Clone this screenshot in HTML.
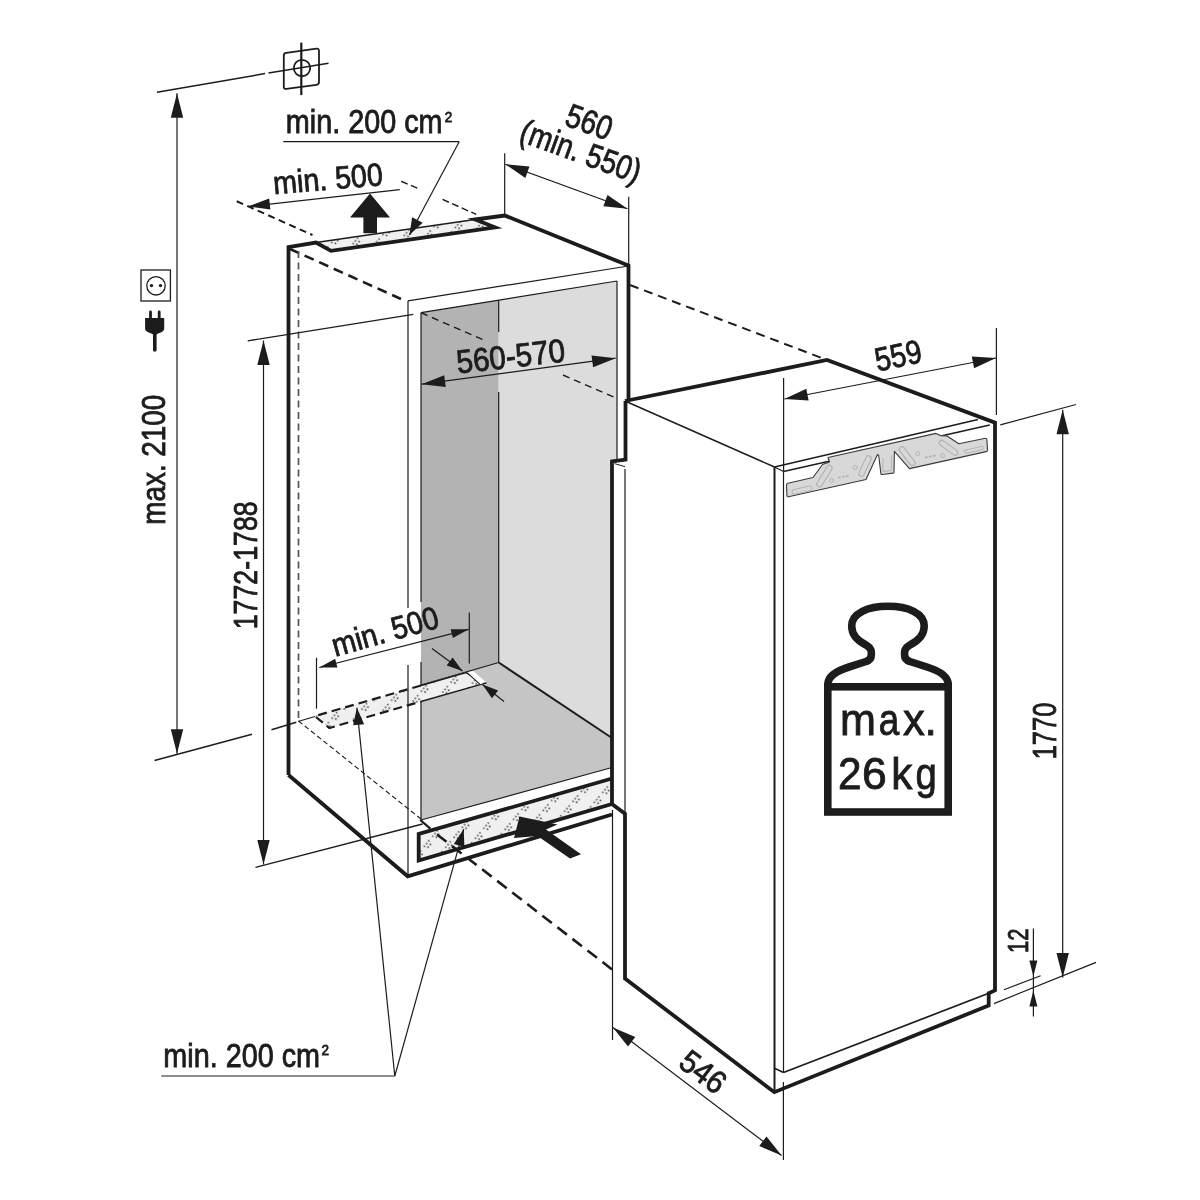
<!DOCTYPE html>
<html><head><meta charset="utf-8"><style>
html,body{margin:0;padding:0;background:#fff;}
svg{display:block;will-change:transform;}
text{font-family:"Liberation Sans",sans-serif;fill:#1c1c1c;stroke:#1c1c1c;stroke-width:0.85px;}
</style></head><body>
<svg width="1200" height="1200" viewBox="0 0 1200 1200">
<defs><pattern id="dots" patternUnits="userSpaceOnUse" width="13" height="17" patternTransform="rotate(-50)">
<rect width="13" height="17" fill="#f0f0f0"/><g fill="#333"><circle cx="1.5" cy="2" r="0.85"/><circle cx="5" cy="2" r="0.85"/><circle cx="8.5" cy="2" r="0.85"/><circle cx="3.2" cy="5.4" r="0.85"/><circle cx="6.7" cy="5.4" r="0.85"/></g></pattern></defs>
<rect width="1200" height="1200" fill="#fff"/>
<polygon points="421,312.7 498.7,300.1 498.7,662.5 421,685.2" fill="#b3b3b3"/>
<polygon points="498.7,300.1 617,281 617,462 612,462 612,738 498.7,662.5" fill="#dcdcdc"/>
<polygon points="421,685.2 498.7,662.5 612,738 612,767.5 421,820" fill="#c5c5c5"/>
<line x1="421" y1="312.7" x2="617" y2="281" stroke="#1c1c1c" stroke-width="1.2" stroke-linecap="butt"/>
<line x1="421" y1="312.7" x2="421" y2="602" stroke="#1c1c1c" stroke-width="1.2" stroke-linecap="butt"/>
<line x1="421" y1="662" x2="421" y2="820" stroke="#1c1c1c" stroke-width="1.2" stroke-linecap="butt"/>
<line x1="617" y1="281" x2="617" y2="462" stroke="#1c1c1c" stroke-width="1.2" stroke-linecap="butt"/>
<line x1="498.7" y1="300.1" x2="498.7" y2="332" stroke="#1c1c1c" stroke-width="1.2" stroke-linecap="butt"/>
<line x1="498.7" y1="392" x2="498.7" y2="662.5" stroke="#1c1c1c" stroke-width="1.2" stroke-linecap="butt"/>
<line x1="421" y1="685.2" x2="498.7" y2="662.5" stroke="#1c1c1c" stroke-width="1.2" stroke-linecap="butt"/>
<line x1="498.7" y1="662.5" x2="612" y2="738" stroke="#1c1c1c" stroke-width="2" stroke-linecap="butt"/>
<line x1="421" y1="820" x2="612" y2="767.5" stroke="#1c1c1c" stroke-width="1.2" stroke-linecap="butt"/>
<line x1="420.3" y1="820" x2="430.3" y2="828.7" stroke="#1c1c1c" stroke-width="2.2" stroke-linecap="butt"/>
<line x1="421" y1="312.7" x2="483" y2="339.7" stroke="#1c1c1c" stroke-width="1.4" stroke-linecap="butt" stroke-dasharray="7 5"/>
<line x1="563" y1="375" x2="617" y2="398.5" stroke="#1c1c1c" stroke-width="1.4" stroke-linecap="butt" stroke-dasharray="7 5"/>
<polygon points="314.75,716.1 466,672 485.3,683.1 329.4,728" fill="url(#dots)"/>
<polyline points="421,685.5 314.75,716.1 329.4,728 421,701.5" fill="none" stroke="#1c1c1c" stroke-width="2.2" stroke-linejoin="miter" stroke-linecap="butt" stroke-dasharray="9 5"/>
<polyline points="421,685.5 466,672.5 485.3,683.1 421,701.5" fill="none" stroke="#1c1c1c" stroke-width="1.5" stroke-linejoin="miter" stroke-linecap="butt"/>
<polygon points="467,672.6 473,671 485.8,682 479.8,684.2" fill="#ffffff"/>
<line x1="467" y1="672.6" x2="479.8" y2="684.2" stroke="#1c1c1c" stroke-width="1.1" stroke-linecap="butt"/>
<polygon points="316,242.5 475,219.5 495,227.3 331,250.8" fill="url(#dots)"/>
<line x1="316" y1="242.5" x2="475" y2="219.5" stroke="#1c1c1c" stroke-width="1.5" stroke-linecap="butt"/>
<polyline points="288.5,775 288.5,247 316,242.5 331,250.8 495,227.3 475,219.5 504.75,215.5 628.5,265.6 628.5,400" fill="none" stroke="#1c1c1c" stroke-width="3.8" stroke-linejoin="miter" stroke-linecap="butt"/>
<polyline points="288.5,775 407.7,876.3 612,814.5" fill="none" stroke="#1c1c1c" stroke-width="3.8" stroke-linejoin="miter" stroke-linecap="butt"/>
<line x1="408" y1="300.8" x2="628.5" y2="266" stroke="#1c1c1c" stroke-width="1.2" stroke-linecap="butt"/>
<line x1="408" y1="300.8" x2="408" y2="608" stroke="#1c1c1c" stroke-width="1.2" stroke-linecap="butt"/>
<line x1="408" y1="665" x2="408" y2="876" stroke="#1c1c1c" stroke-width="1.2" stroke-linecap="butt"/>
<line x1="290" y1="249" x2="401" y2="299" stroke="#1c1c1c" stroke-width="2.6" stroke-linecap="butt" stroke-dasharray="10 6"/>
<line x1="298.5" y1="251" x2="298.5" y2="721" stroke="#555" stroke-width="1.7" stroke-linecap="butt" stroke-dasharray="7 4.5"/>
<line x1="298.5" y1="721" x2="421" y2="819" stroke="#1c1c1c" stroke-width="1.1" stroke-linecap="butt" stroke-dasharray="5 3"/>
<line x1="630" y1="285" x2="826" y2="359.6" stroke="#1c1c1c" stroke-width="2" stroke-linecap="butt" stroke-dasharray="9 6"/>
<line x1="236.7" y1="201.25" x2="312.5" y2="235" stroke="#1c1c1c" stroke-width="2" stroke-linecap="butt" stroke-dasharray="7 4.5"/>
<line x1="401.25" y1="181.25" x2="420" y2="189.4" stroke="#1c1c1c" stroke-width="1.4" stroke-linecap="butt" stroke-dasharray="7 3.5"/>
<line x1="442.5" y1="199.4" x2="476.25" y2="214.4" stroke="#1c1c1c" stroke-width="1.4" stroke-linecap="butt" stroke-dasharray="7 3.5"/>
<polygon points="418.7,834 612,778.5 612,804 418.7,860.5" fill="url(#dots)"/>
<line x1="437" y1="834.5" x2="615" y2="971.7" stroke="#1c1c1c" stroke-width="2.6" stroke-linecap="butt" stroke-dasharray="12 7"/>
<polyline points="612,778.5 418.7,834 418.7,860.5 612,804" fill="none" stroke="#1c1c1c" stroke-width="3.8" stroke-linejoin="miter" stroke-linecap="butt"/>
<polyline points="625,401 827,360 995,422.6 995,990.4 988.7,993.3 988.7,1005.5 774.3,1092.2 625,978.5 625,813.8 612,804 612,461.4 625.5,459.6 625.5,401" fill="none" stroke="#1c1c1c" stroke-width="3.8" stroke-linejoin="miter" stroke-linecap="butt"/>
<line x1="625" y1="401" x2="774.5" y2="467" stroke="#1c1c1c" stroke-width="1.5" stroke-linecap="butt"/>
<line x1="774.5" y1="467" x2="978" y2="419.5" stroke="#1c1c1c" stroke-width="1.5" stroke-linecap="butt"/>
<line x1="774.5" y1="467" x2="774.5" y2="1092.2" stroke="#1c1c1c" stroke-width="2" stroke-linecap="butt"/>
<line x1="783.5" y1="471.5" x2="783.5" y2="1072.5" stroke="#1c1c1c" stroke-width="1.2" stroke-linecap="butt"/>
<line x1="774.5" y1="467" x2="783.5" y2="471.5" stroke="#1c1c1c" stroke-width="1.2" stroke-linecap="butt"/>
<line x1="774.5" y1="1068.3" x2="783.5" y2="1072.5" stroke="#1c1c1c" stroke-width="1.5" stroke-linecap="butt"/>
<line x1="783.5" y1="471.5" x2="989.75" y2="425" stroke="#1c1c1c" stroke-width="1.3" stroke-linecap="butt"/>
<line x1="783.5" y1="1072.5" x2="988.7" y2="993.3" stroke="#1c1c1c" stroke-width="1.7" stroke-linecap="butt"/>
<line x1="625" y1="469" x2="625" y2="812" stroke="#1c1c1c" stroke-width="1.2" stroke-linecap="butt"/>
<line x1="614.5" y1="463.6" x2="625" y2="466.6" stroke="#1c1c1c" stroke-width="1" stroke-linecap="butt"/>
<path d="M788.5 496.8 Q787 497 786.9 495.5 L786.5 485 Q786.5 483.7 788 483.3 L813 477.5 L822.5 464.5 L829.5 462 L828 457.5 L936 433.4 L940.4 435.6 L947 436 L958.8 443.7 L985.5 438.3 Q986.8 438.2 986.9 439.5 L987.5 450 Q987.5 451.3 986.2 451.6 L909.5 468.6 L894.4 451.3 L894 472 Q894 473 893 473.1 L882 474.5 Q881 474.6 880.9 473.6 L878.7 455.5 L877.5 454.5 L866 479.5 Z" fill="#d8d8d8" stroke="#3a3a3a" stroke-width="1.1" stroke-linejoin="round"/>
<line x1="819.5" y1="484" x2="829.5" y2="468" stroke="#b0b0b0" stroke-width="6.5" stroke-linecap="round"/>
<line x1="819.5" y1="484" x2="829.5" y2="468" stroke="#d8d8d8" stroke-width="4.3" stroke-linecap="round"/>
<line x1="861.5" y1="473.5" x2="868.5" y2="458.5" stroke="#b0b0b0" stroke-width="6.5" stroke-linecap="round"/>
<line x1="861.5" y1="473.5" x2="868.5" y2="458.5" stroke="#d8d8d8" stroke-width="4.3" stroke-linecap="round"/>
<line x1="902" y1="449.5" x2="912.5" y2="463" stroke="#b0b0b0" stroke-width="6.5" stroke-linecap="round"/>
<line x1="902" y1="449.5" x2="912.5" y2="463" stroke="#d8d8d8" stroke-width="4.3" stroke-linecap="round"/>
<line x1="942" y1="443" x2="955" y2="452.5" stroke="#b0b0b0" stroke-width="6.5" stroke-linecap="round"/>
<line x1="942" y1="443" x2="955" y2="452.5" stroke="#d8d8d8" stroke-width="4.3" stroke-linecap="round"/>
<circle cx="831.5" cy="480.5" r="2" fill="none" stroke="#b0b0b0" stroke-width="0.9"/>
<circle cx="855" cy="467.5" r="2" fill="none" stroke="#b0b0b0" stroke-width="0.9"/>
<circle cx="917.7" cy="453.5" r="2" fill="none" stroke="#b0b0b0" stroke-width="0.9"/>
<circle cx="942.6" cy="455.5" r="2" fill="none" stroke="#b0b0b0" stroke-width="0.9"/>
<path d="M792 490 L809 486 Q812 485.5 812 488 L811 490.5 L793 494.5 Z" fill="none" stroke="#b0b0b0" stroke-width="0.9"/>
<path d="M964 450.5 L981 446.5 Q983.5 446 983.5 448.2 L983 449.5 L965.5 453.5 Z" fill="none" stroke="#b0b0b0" stroke-width="0.9"/>
<path d="M883 458 L883 471.5 L891.5 470.5 L891.5 455.5" fill="none" stroke="#b0b0b0" stroke-width="0.9"/>
<line x1="838" y1="477.8" x2="840.6" y2="477.2" stroke="#b0b0b0" stroke-width="1.6" stroke-linecap="butt"/>
<line x1="842" y1="477" x2="844.6" y2="476.4" stroke="#b0b0b0" stroke-width="1.6" stroke-linecap="butt"/>
<line x1="846" y1="476.2" x2="848.6" y2="475.6" stroke="#b0b0b0" stroke-width="1.6" stroke-linecap="butt"/>
<line x1="925" y1="457.6" x2="927.6" y2="457" stroke="#b0b0b0" stroke-width="1.6" stroke-linecap="butt"/>
<line x1="929" y1="456.8" x2="931.6" y2="456.2" stroke="#b0b0b0" stroke-width="1.6" stroke-linecap="butt"/>
<line x1="933" y1="456" x2="935.6" y2="455.4" stroke="#b0b0b0" stroke-width="1.6" stroke-linecap="butt"/>
<rect x="827.8" y="686.8" width="120.4" height="125.2" fill="none" stroke="#1c1c1c" stroke-width="7.6"/>
<path d="M827.8 690 L827.8 684 C828.2 676 836 671 849 667 L866 661.5 Q871.3 660 871.3 655 L871.3 652 Q871.3 648 866 645 C856 640 851.7 634 851.7 626 C851.7 613 868 606.3 888 606.3 C908 606.3 924.2 613 924.2 626 C924.2 634 919.9 640 909.9 645 Q904.6 648 904.6 652 L904.6 655 Q904.6 660 909.9 661.5 L927 667 C940 671 947.8 676 948.2 684 L948.2 690" fill="none" stroke="#1c1c1c" stroke-width="7.6" stroke-linejoin="round"/>
<text transform="translate(840.1 735.3) scale(0.97 1)" font-size="44.5">m</text>
<text transform="translate(878.8 735.3) scale(0.83 1)" font-size="44.5">a</text>
<text transform="translate(903 735.3) scale(0.98 1)" font-size="44.5">x</text>
<text transform="translate(924.5 735.3) scale(1.0 1)" font-size="44.5">.</text>
<text transform="translate(838.1 789) scale(0.95 1)" font-size="44.5">2</text>
<text transform="translate(862 789) scale(1.0 1)" font-size="44.5">6</text>
<text transform="translate(891.15 789) scale(0.95 1)" font-size="44.5">k</text>
<text transform="translate(915.6 789) scale(0.86 1)" font-size="44.5">g</text>
<line x1="177" y1="93.3" x2="177" y2="753.75" stroke="#1c1c1c" stroke-width="1.2" stroke-linecap="butt"/>
<polygon points="177,93.3 183.2,117.8 170.8,117.8" fill="#1c1c1c"/>
<polygon points="177,753.75 170.8,729.25 183.2,729.25" fill="#1c1c1c"/>
<line x1="157" y1="92.3" x2="265" y2="73.6" stroke="#1c1c1c" stroke-width="1.5" stroke-linecap="butt"/>
<line x1="268.5" y1="73" x2="328.5" y2="63.2" stroke="#1c1c1c" stroke-width="1.5" stroke-linecap="butt"/>
<line x1="154.5" y1="760.5" x2="252" y2="734.25" stroke="#1c1c1c" stroke-width="1.5" stroke-linecap="butt"/>
<line x1="271.5" y1="729.75" x2="296.25" y2="722.25" stroke="#1c1c1c" stroke-width="1.5" stroke-linecap="butt"/>
<line x1="298" y1="721.5" x2="315" y2="716.5" stroke="#1c1c1c" stroke-width="1.2" stroke-linecap="butt"/>
<line x1="263.5" y1="340.5" x2="263.5" y2="864.5" stroke="#1c1c1c" stroke-width="1.2" stroke-linecap="butt"/>
<polygon points="263.5,340.5 269.7,365 257.3,365" fill="#1c1c1c"/>
<polygon points="263.5,864.5 257.3,840 269.7,840" fill="#1c1c1c"/>
<line x1="247.7" y1="340.8" x2="413.3" y2="314.4" stroke="#1c1c1c" stroke-width="1.3" stroke-linecap="butt"/>
<line x1="255.5" y1="867.4" x2="422.6" y2="824" stroke="#1c1c1c" stroke-width="1.3" stroke-linecap="butt"/>
<line x1="247.9" y1="206.5" x2="399.8" y2="189.6" stroke="#1c1c1c" stroke-width="1.2" stroke-linecap="butt"/>
<polygon points="247.9,206.5 269.16,198.6 270.37,209.53" fill="#1c1c1c"/>
<line x1="504.7" y1="153.3" x2="504.7" y2="215" stroke="#1c1c1c" stroke-width="1.2" stroke-linecap="butt"/>
<line x1="628.7" y1="196.7" x2="628.7" y2="265.6" stroke="#1c1c1c" stroke-width="1.2" stroke-linecap="butt"/>
<line x1="505.3" y1="164.2" x2="627.5" y2="208.7" stroke="#1c1c1c" stroke-width="1.2" stroke-linecap="butt"/>
<polygon points="505.3,164.2 529.43,166.6 525.33,177.88" fill="#1c1c1c"/>
<polygon points="627.5,208.7 603.37,206.3 607.47,195.02" fill="#1c1c1c"/>
<line x1="421.7" y1="384.2" x2="615.6" y2="358.2" stroke="#1c1c1c" stroke-width="1.2" stroke-linecap="butt"/>
<polygon points="421.7,384.2 444.19,375.13 445.79,387.02" fill="#1c1c1c"/>
<polygon points="615.6,358.2 593.11,367.27 591.51,355.38" fill="#1c1c1c"/>
<line x1="783.6" y1="378" x2="783.6" y2="471.5" stroke="#1c1c1c" stroke-width="1.2" stroke-linecap="butt"/>
<line x1="996.4" y1="328" x2="996.4" y2="415" stroke="#1c1c1c" stroke-width="1.2" stroke-linecap="butt"/>
<line x1="784.4" y1="399" x2="996" y2="358" stroke="#1c1c1c" stroke-width="1.2" stroke-linecap="butt"/>
<polygon points="784.4,399 806.33,388.64 808.61,400.42" fill="#1c1c1c"/>
<polygon points="996,358 974.07,368.36 971.79,356.58" fill="#1c1c1c"/>
<line x1="1062.7" y1="409.8" x2="1062.7" y2="977.5" stroke="#1c1c1c" stroke-width="1.2" stroke-linecap="butt"/>
<polygon points="1062.7,409.8 1068.9,434.3 1056.5,434.3" fill="#1c1c1c"/>
<polygon points="1062.7,977.5 1056.5,953 1068.9,953" fill="#1c1c1c"/>
<line x1="1000.3" y1="424.9" x2="1076" y2="404.5" stroke="#1c1c1c" stroke-width="1.2" stroke-linecap="butt"/>
<line x1="994" y1="1003.6" x2="1096" y2="962.4" stroke="#1c1c1c" stroke-width="1.2" stroke-linecap="butt"/>
<line x1="1033.4" y1="928.6" x2="1033.4" y2="1016.6" stroke="#1c1c1c" stroke-width="1.2" stroke-linecap="butt"/>
<polygon points="1033.4,976.5 1029.4,960.5 1037.4,960.5" fill="#1c1c1c"/>
<polygon points="1033.4,990.5 1037.4,1006.5 1029.4,1006.5" fill="#1c1c1c"/>
<line x1="1003.9" y1="989.8" x2="1040.6" y2="975.8" stroke="#1c1c1c" stroke-width="1.2" stroke-linecap="butt"/>
<line x1="612.5" y1="810" x2="612.5" y2="1040" stroke="#1c1c1c" stroke-width="1.2" stroke-linecap="butt"/>
<line x1="783.4" y1="1082" x2="783.4" y2="1160" stroke="#1c1c1c" stroke-width="1.2" stroke-linecap="butt"/>
<line x1="612.9" y1="1027.6" x2="781.6" y2="1155.4" stroke="#1c1c1c" stroke-width="1.2" stroke-linecap="butt"/>
<polygon points="612.9,1027.6 635.25,1037.01 628.01,1046.57" fill="#1c1c1c"/>
<polygon points="781.6,1155.4 759.25,1145.99 766.49,1136.43" fill="#1c1c1c"/>
<line x1="316.5" y1="657.7" x2="316.5" y2="708.75" stroke="#1c1c1c" stroke-width="1.2" stroke-linecap="butt"/>
<line x1="469.3" y1="612.4" x2="469.3" y2="663.4" stroke="#1c1c1c" stroke-width="1.2" stroke-linecap="butt"/>
<line x1="319.3" y1="667.5" x2="468.7" y2="629.3" stroke="#1c1c1c" stroke-width="1.2" stroke-linecap="butt"/>
<polygon points="319.3,667.5 335.12,658.71 337.39,667.62" fill="#1c1c1c"/>
<polygon points="468.7,629.3 452.88,638.09 450.61,629.18" fill="#1c1c1c"/>
<line x1="432" y1="648.5" x2="462.5" y2="671" stroke="#1c1c1c" stroke-width="1.2" stroke-linecap="butt"/>
<polygon points="462.5,671 446.66,665.53 452.59,657.48" fill="#1c1c1c"/>
<line x1="504" y1="701.5" x2="482.5" y2="684.5" stroke="#1c1c1c" stroke-width="1.2" stroke-linecap="butt"/>
<polygon points="482.5,684.5 498.15,690.5 491.95,698.35" fill="#1c1c1c"/>
<line x1="283.3" y1="141.7" x2="459.2" y2="141.7" stroke="#1c1c1c" stroke-width="1.2" stroke-linecap="butt"/>
<line x1="459.2" y1="141.7" x2="409.4" y2="235" stroke="#1c1c1c" stroke-width="1.2" stroke-linecap="butt"/>
<polygon points="409.4,235 412.11,217.18 422.7,222.83" fill="#1c1c1c"/>
<line x1="161.2" y1="1076" x2="394.8" y2="1076" stroke="#1c1c1c" stroke-width="1.2" stroke-linecap="butt"/>
<line x1="394.8" y1="1076" x2="356.9" y2="707.8" stroke="#1c1c1c" stroke-width="1.2" stroke-linecap="butt"/>
<polygon points="356.9,707.8 364.11,724.15 353.17,725.27" fill="#1c1c1c"/>
<line x1="394.8" y1="1076" x2="463.7" y2="829.1" stroke="#1c1c1c" stroke-width="1.2" stroke-linecap="butt"/>
<polygon points="463.7,829.1 464.43,846.95 453.83,844" fill="#1c1c1c"/>
<polygon points="370,193.5 390,217.5 377,217.5 377,233.3 363.4,233.3 363.4,217.5 350,217.5" fill="#1c1c1c"/>
<polygon points="519.5,816.5 557.5,824.5 546,829.5 581,854.2 570,858.5 537.5,836 514,838" fill="#1c1c1c"/>
<path d="M286.3 52.8 L316.5 48.7 Q319 48.4 319 51 L319 82 Q319 84.5 316.5 84.8 L286.3 88.9 Q283.8 89.2 283.8 86.7 L283.8 55.5 Q283.8 53.1 286.3 52.8 Z" fill="none" stroke="#1c1c1c" stroke-width="1.8"/>
<line x1="301.3" y1="42.6" x2="301.3" y2="95.1" stroke="#1c1c1c" stroke-width="2.2" stroke-linecap="butt"/>
<circle cx="302" cy="68" r="8.2" fill="none" stroke="#1c1c1c" stroke-width="1.8"/>
<rect x="141" y="270" width="29.4" height="31" fill="none" stroke="#1c1c1c" stroke-width="1.3"/>
<circle cx="156" cy="285.8" r="9.2" fill="none" stroke="#1c1c1c" stroke-width="1.3"/>
<circle cx="151.5" cy="285.6" r="1.7" fill="#1c1c1c"/><circle cx="160.5" cy="285.6" r="1.7" fill="#1c1c1c"/>
<path d="M145.1 318 L164.2 318 L164.2 328.6 C164.2 332 159 333 156.6 334.5 L156.6 350 Q156.6 351.8 154.8 351.8 Q153 351.8 153 350 L153 334.5 C150.5 333 145.1 332 145.1 328.6 Z" fill="#1c1c1c"/>
<rect x="149.1" y="310.5" width="2.8" height="9" rx="1.4" fill="#1c1c1c"/><rect x="157.8" y="310.5" width="2.8" height="9" rx="1.4" fill="#1c1c1c"/>
<text x="285.8" y="133.3" font-size="33" text-anchor="start" font-weight="normal" textLength="156.7" lengthAdjust="spacingAndGlyphs">min. 200 cm</text>
<text x="444.8" y="122" font-size="15.5" text-anchor="start" font-weight="normal" textLength="7.5" lengthAdjust="spacingAndGlyphs">2</text>
<text x="274" y="194.3" font-size="32" text-anchor="start" font-weight="normal" textLength="110" lengthAdjust="spacingAndGlyphs" transform="rotate(-4.8 274 194.3)">min. 500</text>
<text x="585.3" y="132.7" font-size="33.5" text-anchor="middle" font-weight="normal" textLength="47" lengthAdjust="spacingAndGlyphs" transform="rotate(20 585.3 132.7)">560</text>
<text x="577" y="162" font-size="33.5" text-anchor="middle" font-weight="normal" textLength="126" lengthAdjust="spacingAndGlyphs" transform="rotate(20 577 162)">(min. 550)</text>
<text x="457.8" y="373.6" font-size="33" text-anchor="start" font-weight="normal" textLength="109" lengthAdjust="spacingAndGlyphs" transform="rotate(-6.46 457.8 373.6)">560-570</text>
<text x="877.5" y="371.5" font-size="33" text-anchor="start" font-weight="normal" textLength="47" lengthAdjust="spacingAndGlyphs" transform="rotate(-12 877.5 371.5)">559</text>
<text x="165.3" y="524.7" font-size="33" text-anchor="start" font-weight="normal" textLength="130" lengthAdjust="spacingAndGlyphs" transform="rotate(-90 165.3 524.7)">max. 2100</text>
<text x="257.5" y="629.3" font-size="33" text-anchor="start" font-weight="normal" textLength="128" lengthAdjust="spacingAndGlyphs" transform="rotate(-90 257.5 629.3)">1772-1788</text>
<text x="335.3" y="656.7" font-size="32" text-anchor="start" font-weight="normal" textLength="109.4" lengthAdjust="spacingAndGlyphs" transform="rotate(-15.6 335.3 656.7)">min. 500</text>
<text x="1056" y="759.3" font-size="32.5" text-anchor="start" font-weight="normal" textLength="56.6" lengthAdjust="spacingAndGlyphs" transform="rotate(-90 1056 759.3)">1770</text>
<text x="1028.4" y="953" font-size="30" text-anchor="start" font-weight="normal" textLength="24.4" lengthAdjust="spacingAndGlyphs" transform="rotate(-90 1028.4 953)">12</text>
<text x="696.4" y="1080.6" font-size="32" text-anchor="middle" font-weight="normal" textLength="49" lengthAdjust="spacingAndGlyphs" transform="rotate(37.3 696.4 1080.6)">546</text>
<text x="163.3" y="1066.7" font-size="33" text-anchor="start" font-weight="normal" textLength="156.7" lengthAdjust="spacingAndGlyphs">min. 200 cm</text>
<text x="321.5" y="1055.2" font-size="15.5" text-anchor="start" font-weight="normal" textLength="7.5" lengthAdjust="spacingAndGlyphs">2</text>
</svg>
</body></html>
